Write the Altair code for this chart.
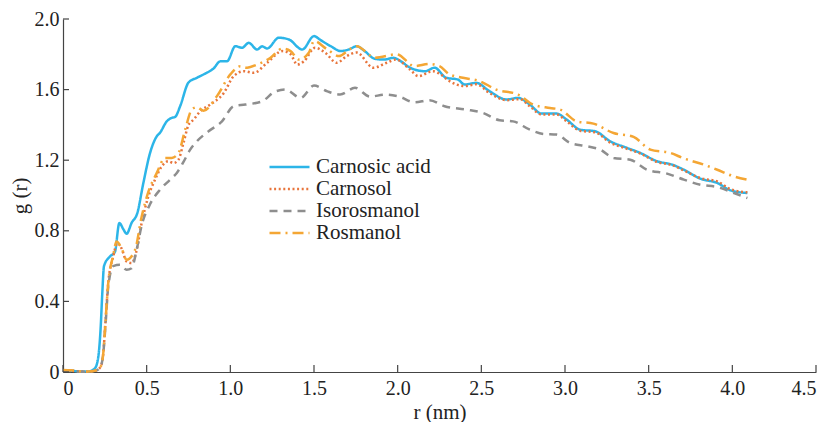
import altair as alt
import pandas as pd

names = ["Carnosic acid", "Carnosol", "Isorosmanol", "Rosmanol"]
colors = ["#2CB5E8", "#E8753C", "#8E8E8E", "#F4A634"]
dashes = [[1, 0], [2, 2.6], [8, 6], [11, 5, 2, 5]]

# Carnosic acid
r_ca = [0, 0.05, 0.10, 0.15, 0.19, 0.21, 0.225, 0.235, 0.245, 0.28, 0.31, 0.337, 0.36, 0.38, 0.41,
        0.444, 0.48, 0.52, 0.56, 0.58, 0.62, 0.65, 0.67, 0.70, 0.75, 0.80, 0.84, 0.90, 0.94, 0.98,
        1.03, 1.07, 1.11, 1.16, 1.19, 1.22, 1.29, 1.35, 1.43, 1.50, 1.54, 1.60, 1.66, 1.715, 1.755,
        1.80, 1.865, 1.92, 1.975, 2.02, 2.074, 2.164, 2.22, 2.29, 2.36, 2.40, 2.47, 2.55, 2.65, 2.72,
        2.79, 2.86, 2.95, 3.01, 3.09, 3.18, 3.27, 3.37, 3.45, 3.55, 3.64, 3.71, 3.81, 3.91, 3.99, 4.09]
g_ca = [0.01, 0.008, 0.003, 0.003, 0.02, 0.08, 0.25, 0.45, 0.60, 0.654, 0.68, 0.844, 0.81, 0.783, 0.845,
        0.90, 1.07, 1.24, 1.335, 1.356, 1.42, 1.44, 1.445, 1.506, 1.64, 1.667, 1.686, 1.72, 1.76, 1.76,
        1.846, 1.837, 1.865, 1.827, 1.845, 1.833, 1.894, 1.884, 1.827, 1.903, 1.88, 1.846, 1.818, 1.83, 1.846,
        1.82, 1.774, 1.77, 1.78, 1.76, 1.724, 1.704, 1.724, 1.667, 1.657, 1.629, 1.638, 1.59, 1.544, 1.553,
        1.515, 1.464, 1.464, 1.43, 1.373, 1.364, 1.307, 1.27, 1.241, 1.194, 1.175, 1.146, 1.095, 1.071, 1.029, 1.014]

# Carnosol
r_cs = [0, 0.05, 0.10, 0.15, 0.20, 0.225, 0.24, 0.255, 0.27, 0.30, 0.325, 0.35, 0.38, 0.41, 0.436,
        0.47, 0.51, 0.55, 0.59, 0.63, 0.66, 0.69, 0.72, 0.75, 0.78, 0.82, 0.88, 0.96, 1.02, 1.08,
        1.14, 1.22, 1.31, 1.36, 1.40, 1.44, 1.506, 1.566, 1.636, 1.696, 1.755, 1.855, 1.935, 1.99, 2.074,
        2.124, 2.21, 2.25, 2.31, 2.40, 2.47, 2.55, 2.65, 2.73, 2.79, 2.86, 2.95, 3.01, 3.09, 3.18,
        3.27, 3.37, 3.45, 3.55, 3.64, 3.71, 3.81, 3.91, 3.99, 4.09]
g_cs = [0.01, 0.008, 0.003, 0.002, 0.01, 0.03, 0.10, 0.30, 0.50, 0.654, 0.73, 0.70, 0.626, 0.617, 0.674,
        0.844, 0.995, 1.09, 1.165, 1.194, 1.184, 1.203, 1.298, 1.40, 1.43, 1.477, 1.515, 1.58, 1.676, 1.704,
        1.695, 1.752, 1.818, 1.80, 1.742, 1.76, 1.837, 1.81, 1.752, 1.79, 1.81, 1.724, 1.752, 1.77, 1.714,
        1.676, 1.704, 1.69, 1.648, 1.62, 1.63, 1.58, 1.54, 1.546, 1.505, 1.459, 1.459, 1.42, 1.367, 1.358,
        1.30, 1.265, 1.238, 1.19, 1.172, 1.142, 1.098, 1.08, 1.035, 1.018]

# Isorosmanol
r_is = [0, 0.05, 0.10, 0.15, 0.20, 0.225, 0.24, 0.255, 0.27, 0.30, 0.34, 0.38, 0.41, 0.44, 0.47,
        0.52, 0.58, 0.64, 0.68, 0.72, 0.76, 0.80, 0.87, 0.95, 1.02, 1.09, 1.19, 1.27, 1.33, 1.42,
        1.50, 1.58, 1.656, 1.745, 1.835, 1.925, 2.01, 2.10, 2.19, 2.28, 2.41, 2.51, 2.61, 2.69, 2.79,
        2.87, 2.95, 3.03, 3.13, 3.21, 3.29, 3.39, 3.49, 3.61, 3.71, 3.81, 3.91, 4.01, 4.09]
g_is = [0.008, 0.006, 0.002, 0.002, 0.01, 0.03, 0.10, 0.28, 0.48, 0.60, 0.607, 0.579, 0.588, 0.692, 0.83,
        0.95, 1.033, 1.09, 1.128, 1.19, 1.26, 1.307, 1.364, 1.42, 1.506, 1.515, 1.534, 1.59, 1.60, 1.553,
        1.623, 1.59, 1.572, 1.61, 1.56, 1.572, 1.56, 1.528, 1.54, 1.506, 1.487, 1.468, 1.426, 1.42, 1.373,
        1.349, 1.345, 1.298, 1.279, 1.26, 1.213, 1.203, 1.146, 1.124, 1.09, 1.061, 1.048, 1.014, 0.986]

# Rosmanol
r_rs = [0, 0.05, 0.10, 0.15, 0.20, 0.225, 0.24, 0.255, 0.27, 0.30, 0.32, 0.35, 0.38, 0.43, 0.47,
        0.51, 0.56, 0.61, 0.65, 0.69, 0.73, 0.77, 0.80, 0.84, 0.92, 1.0, 1.06, 1.10, 1.16, 1.24,
        1.31, 1.36, 1.41, 1.47, 1.50, 1.58, 1.65, 1.715, 1.755, 1.865, 1.995, 2.10, 2.19, 2.25, 2.31,
        2.39, 2.49, 2.59, 2.72, 2.81, 2.91, 2.97, 3.07, 3.17, 3.29, 3.41, 3.51, 3.63, 3.71, 3.83,
        3.91, 4.01, 4.09]
g_rs = [0.012, 0.01, 0.004, 0.003, 0.01, 0.03, 0.10, 0.30, 0.50, 0.66, 0.74, 0.70, 0.636, 0.69, 0.88,
        1.02, 1.127, 1.213, 1.213, 1.241, 1.373, 1.487, 1.50, 1.48, 1.563, 1.686, 1.733, 1.724, 1.742, 1.78,
        1.832, 1.818, 1.77, 1.81, 1.875, 1.827, 1.79, 1.83, 1.846, 1.78, 1.80, 1.733, 1.745, 1.733, 1.686,
        1.667, 1.648, 1.60, 1.572, 1.515, 1.496, 1.487, 1.42, 1.407, 1.354, 1.332, 1.26, 1.241, 1.21, 1.175,
        1.146, 1.108, 1.09]

x_ticks = [0, 0.5, 1.0, 1.5, 2.0, 2.5, 3.0, 3.5, 4.0, 4.5]
y_ticks = [0, 0.4, 0.8, 1.2, 1.6, 2.0]

series = [(names[0], r_ca, g_ca), (names[1], r_cs, g_cs), (names[2], r_is, g_is), (names[3], r_rs, g_rs)]
rows = []
for name, rs, gs in series:
    for i, (r, g) in enumerate(zip(rs, gs)):
        rows.append({"series": name, "r": r, "g": g, "order": i})
df = pd.DataFrame(rows)

W, H = 753, 353
FONT = "Liberation Serif"
label_expr = "datum.value == 0 ? '0' : format(datum.value, '.1f')"

xscale = alt.Scale(domain=[0, 4.5], nice=False, zero=False)
yscale = alt.Scale(domain=[0, 2.0], nice=False, zero=False)
xaxis = alt.Axis(values=x_ticks, labelExpr=label_expr, title="r (nm)", labelPadding=6,
                 titleY=46, titleBaseline="alphabetic")
yaxis = alt.Axis(values=y_ticks, labelExpr=label_expr, title="g (r)", labelPadding=4,
                 titleX=-43, titleY=H / 2, titleBaseline="middle", titleAngle=-90)

leg = alt.Legend(title=None, orient="none", legendX=205, legendY=137,
                 symbolType="stroke", symbolSize=1600, symbolStrokeWidth=2.5,
                 labelFont=FONT, labelFontSize=21, labelColor="#222",
                 labelOffset=5, rowPadding=0, clipHeight=22, padding=0)

lines = alt.Chart(df).mark_line(strokeWidth=2.5, interpolate="monotone").encode(
    x=alt.X("r:Q", scale=xscale, axis=xaxis),
    y=alt.Y("g:Q", scale=yscale, axis=yaxis),
    color=alt.Color("series:N", scale=alt.Scale(domain=names, range=colors), legend=leg),
    strokeDash=alt.StrokeDash("series:N", scale=alt.Scale(domain=names, range=dashes), legend=leg),
    order="order:Q",
)

yt = alt.Chart(pd.DataFrame({"v": y_ticks})).mark_rule(color="#444", strokeWidth=1.2).encode(
    y=alt.Y("v:Q", scale=yscale, axis=yaxis), x=alt.value(0), x2=alt.value(6))
xt = alt.Chart(pd.DataFrame({"v": x_ticks})).mark_rule(color="#444", strokeWidth=1.2).encode(
    x=alt.X("v:Q", scale=xscale, axis=xaxis), y=alt.value(H), y2=alt.value(H - 7))

chart = alt.layer(lines, yt, xt).properties(
    width=W, height=H,
    autosize=alt.AutoSizeParams(type="none"),
    padding={"left": 55, "top": 11, "right": 7, "bottom": 50},
    background="white",
).configure_view(stroke=None).configure_axis(
    grid=False, domainColor="#444", domainWidth=1.2, tickSize=0, ticks=False,
    labelFont=FONT, labelFontSize=20, labelColor="#222",
    titleFont=FONT, titleFontSize=21, titleColor="#222", titleFontWeight="normal",
)

chart.save("out.html", embed_options={"renderer": "svg", "actions": False})
